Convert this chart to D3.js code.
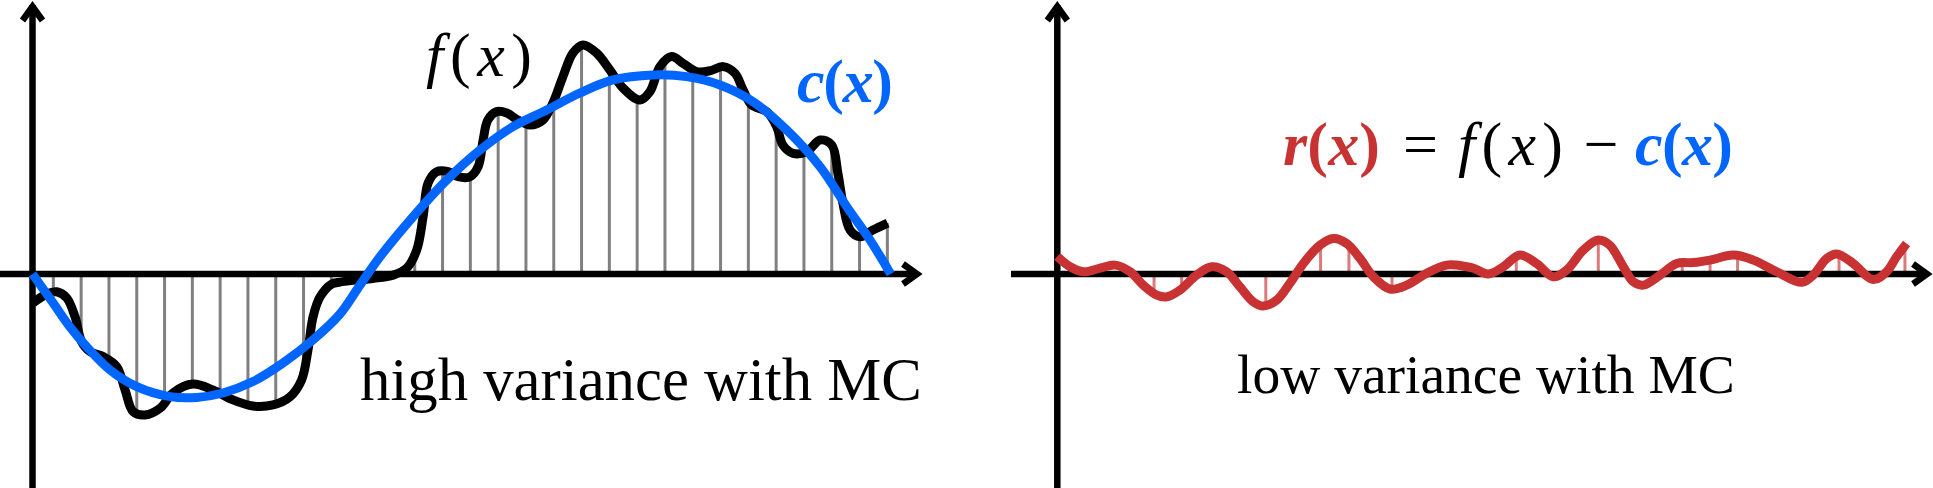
<!DOCTYPE html>
<html>
<head>
<meta charset="utf-8">
<script src="https://cdn.jsdelivr.net/npm/d3@7"></script>
<style>
  body { margin: 0; background: #fff; }
  svg { display: block; }
  text { font-family: "Liberation Serif", "DejaVu Serif", serif; }
</style>
</head>
<body>
<div id="chart"></div>
<script>
// x is measured in sample spacings from the origin, y in the same unit (up = positive)

// f(x), the integrand (black, left panel)
const fX = [0.02, 0.51, 0.87, 1.23, 1.53, 1.77, 2.07, 2.54, 3.03, 3.33, 3.62, 4.05, 4.60, 5.05, 5.77, 6.49,
  7.21, 7.93, 8.65, 9.26, 9.68, 9.91, 10.09, 10.34, 10.76, 11.06, 11.53, 12.25, 12.97, 13.47, 13.82, 14.05,
  14.23, 14.54, 14.95, 15.31, 15.74, 16.03, 16.21, 16.38, 16.70, 17.06, 17.46, 17.90, 18.36, 18.72, 19.08,
  19.44, 19.80, 20.29, 20.77, 21.24, 21.85, 22.21, 22.57, 22.99, 23.40, 23.89, 24.37, 24.84, 25.27, 25.56,
  25.87, 26.41, 26.77, 26.99, 27.36, 27.85, 28.33, 28.75, 28.97, 29.15, 29.41, 29.77, 30.23, 30.76];
const fY = [-1.04, -0.72, -0.64, -0.86, -1.54, -2.44, -2.79, -2.97, -3.33, -4.17, -4.95, -5.07, -4.82, -4.28, -3.96, -4.17,
  -4.53, -4.75, -4.71, -4.42, -3.81, -2.73, -1.55, -0.83, -0.36, -0.29, -0.23, -0.16, -0.04, 0.22, 0.86, 2.06,
  3.27, 3.68, 3.68, 3.50, 3.50, 3.86, 4.82, 5.54, 5.84, 5.79, 5.54, 5.36, 5.54, 6.15, 7.10,
  7.95, 8.24, 7.95, 7.34, 6.69, 6.26, 6.56, 7.46, 7.82, 7.58, 7.28, 7.31, 7.46, 7.22, 6.62,
  6.08, 5.84, 5.30, 4.64, 4.34, 4.40, 4.82, 4.64, 3.63, 2.55, 1.58, 1.34, 1.58, 1.83];

// c(x), the control variate (blue)
const cX = [0, 0.74, 1.35, 1.95, 2.79, 3.75, 4.95, 5.91, 6.85, 7.93, 9.01, 10.09, 11.06, 11.78, 12.50, 13.69,
  14.90, 16.10, 17.28, 18.50, 19.69, 20.88, 22.32, 23.53, 24.73, 25.92, 27.13, 28.33, 29.29, 30.13, 30.87];
const cY = [0, -1.04, -1.91, -2.62, -3.45, -4.05, -4.41, -4.44, -4.28, -3.87, -3.20, -2.37, -1.44, -0.40, 0.62, 2.06,
  3.38, 4.46, 5.30, 5.90, 6.51, 6.98, 7.16, 7.10, 6.80, 6.20, 5.18, 3.86, 2.42, 1.22, 0];

// MC samples of f (grey stems)
const sampleX = [0.75, 1.75, 2.75, 3.75, 4.75, 5.75, 6.75, 7.75, 8.75, 9.75, 10.75, 11.75, 12.75, 13.75, 14.75, 15.75,
  16.75, 17.75, 18.75, 19.75, 20.75, 21.75, 22.75, 23.75, 24.75, 25.75, 26.75, 27.75, 28.75, 29.75, 30.75];
const sampleY = [-0.65, -2.40, -3.10, -4.95, -4.62, -3.96, -4.25, -4.69, -4.70, -3.40, -0.36, -0.22, -0.07, 0.70, 3.68, 3.50,
  5.83, 5.41, 6.19, 8.22, 7.34, 6.29, 7.66, 7.34, 7.45, 6.33, 5.32, 4.39, 4.46, 1.35, 1.83];

// r(x) = f(x) - c(x), the residual (red, right panel)
const rX = [0, 0.46, 0.94, 1.54, 2.08, 2.62, 3.09, 3.58, 3.94, 4.41, 5.01, 5.55, 6.09, 6.57, 7.05, 7.41, 7.89,
  8.37, 8.85, 9.45, 9.93, 10.41, 10.89, 11.37, 11.97, 12.57, 13.29, 14.01, 14.73, 15.00, 15.50, 16.04, 16.64,
  17.24, 17.84, 18.32, 18.92, 19.46, 19.87, 20.36, 20.72, 21.08, 21.68, 22.28, 22.88, 23.48, 24.32, 25.04,
  25.88, 26.78, 27.19, 27.68, 28.04, 28.63, 29.35, 29.83, 30.19, 30.55];
const rY = [0.63, 0.26, 0.08, 0.21, 0.32, 0.08, -0.40, -0.76, -0.82, -0.58, -0.04, 0.26, 0.08, -0.46, -1.00, -1.15, -0.94,
  -0.33, 0.38, 1.04, 1.28, 1.10, 0.56, -0.10, -0.54, -0.40, 0.03, 0.32, 0.26, 0.20, 0.00, 0.26, 0.68,
  0.38, -0.10, 0.14, 0.86, 1.22, 1.04, 0.26, -0.28, -0.40, -0.04, 0.38, 0.41, 0.50, 0.68, 0.50,
  0.08, -0.30, -0.04, 0.56, 0.72, 0.38, -0.20, 0.08, 0.62, 1.10];

// MC samples of r (light red stems)
const rSampleX = [3.48, 4.47, 6.47, 7.50, 9.47, 10.49, 12.04, 16.51, 19.46, 22.48, 23.48, 24.47, 28.12, 30.49];
const rSampleY = [-0.68, -0.54, -0.36, -1.12, 1.04, 1.08, -0.54, 0.65, 1.22, 0.40, 0.50, 0.65, 0.65, 0.97];

const W = 1933, H = 488;
const unit = 27.8;
const axisY = 274;
const BLUE = "#0066ff", RED = "#c83232";

const svg = d3.select("#chart").append("svg")
    .attr("width", W)
    .attr("height", H);

const y = d3.scaleLinear().domain([0, 10]).range([axisY, axisY - 10 * unit]);
const xL = d3.scaleLinear().domain([0, 32]).range([32.5, 32.5 + 32 * unit]);
const xR = d3.scaleLinear().domain([0, 32]).range([1057.3, 1057.3 + 32 * unit]);

// arrow head pointing along +x, tip at (x, y) after rotation
function arrow(x, yy, angle) {
    svg.append("path")
        .attr("d", "M-19,-10 L-5,0 L-19,10")
        .attr("transform", `translate(${x},${yy}) rotate(${angle})`)
        .attr("fill", "none")
        .attr("stroke", "#000")
        .attr("stroke-width", 6.5)
        .attr("stroke-linejoin", "miter")
        .attr("stroke-miterlimit", 10);
}

function axes(xScale, xStart, xTip) {
    const ox = xScale(0);
    svg.append("line")
        .attr("x1", ox).attr("x2", ox)
        .attr("y1", H).attr("y2", 5)
        .attr("stroke", "#000").attr("stroke-width", 6.5);
    arrow(ox, 1.5, -90);
    svg.append("line")
        .attr("x1", xStart).attr("x2", xTip - 5)
        .attr("y1", y(0)).attr("y2", y(0))
        .attr("stroke", "#000").attr("stroke-width", 6.5);
    arrow(xTip, y(0), 0);
}

function stems(xScale, xs, ys, color, opacity) {
    svg.append("g")
        .selectAll("line")
        .data(xs.map((d, i) => [d, ys[i]]))
        .join("line")
        .attr("x1", d => xScale(d[0])).attr("x2", d => xScale(d[0]))
        .attr("y1", y(0)).attr("y2", d => y(d[1]))
        .attr("stroke", color)
        .attr("stroke-opacity", opacity)
        .attr("stroke-width", 3);
}

function curve(xScale, xs, ys, color) {
    const line = d3.line()
        .x(d => xScale(d[0]))
        .y(d => y(d[1]))
        .curve(d3.curveCatmullRom.alpha(0.5));
    svg.append("path")
        .datum(xs.map((d, i) => [d, ys[i]]))
        .attr("d", line)
        .attr("fill", "none")
        .attr("stroke", color)
        .attr("stroke-width", 9)
        .attr("stroke-linejoin", "round");
}

// left panel
stems(xL, sampleX, sampleY, "#808080", 1);
axes(xL, 0, 922);
curve(xL, fX, fY, "#000");
curve(xL, cX, cY, BLUE);

// right panel
stems(xR, rSampleX, rSampleY, RED, 0.65);
axes(xR, 1011, 1932);
curve(xR, rX, rY, RED);

// math label: parts are [text, italic], stretched to span x0..x1
function mathLabel(x0, x1, base, parts, color, weight) {
    const t = svg.append("text")
        .attr("x", x0).attr("y", base)
        .attr("font-family", "Liberation Serif")
        .attr("font-size", 62)
        .attr("font-weight", weight)
        .attr("fill", color);
    parts.forEach(p => t.append("tspan")
        .attr("font-style", p[1] ? "italic" : "normal")
        .text(p[0]));
    t.attr("textLength", x1 - x0).attr("lengthAdjust", "spacing");
}

const fx = [["f", true], ["(", false], ["x", true], [")", false]];
const cx = [["c", true], ["(", false], ["x", true], [")", false]];
const rx = [["r", true], ["(", false], ["x", true], [")", false]];

mathLabel(426, 532, 76, fx, "#000", "normal");
mathLabel(797, 893, 102, cx, BLUE, "bold");

mathLabel(1283, 1380, 165, rx, RED, "bold");
svg.append("text").attr("x", 1420.5).attr("y", 165).attr("font-size", 62)
    .attr("text-anchor", "middle").text("=");
mathLabel(1458, 1563, 165, fx, "#000", "normal");
svg.append("text").attr("x", 1601).attr("y", 165).attr("font-size", 62)
    .attr("text-anchor", "middle").text("\u2212");
mathLabel(1635, 1733, 165, cx, BLUE, "bold");

// plain labels, sized to their width in the reference
function fitLabel(x0, x1, base, str) {
    const t = svg.append("text")
        .attr("x", x0).attr("y", base)
        .attr("font-size", 50)
        .attr("fill", "#000")
        .text(str);
    const w = t.node().getComputedTextLength();
    t.attr("font-size", 50 * (x1 - x0) / w);
}

fitLabel(360, 922, 400, "high variance with MC");
fitLabel(1237, 1735, 393, "low variance with MC");
</script>
</body>
</html>
